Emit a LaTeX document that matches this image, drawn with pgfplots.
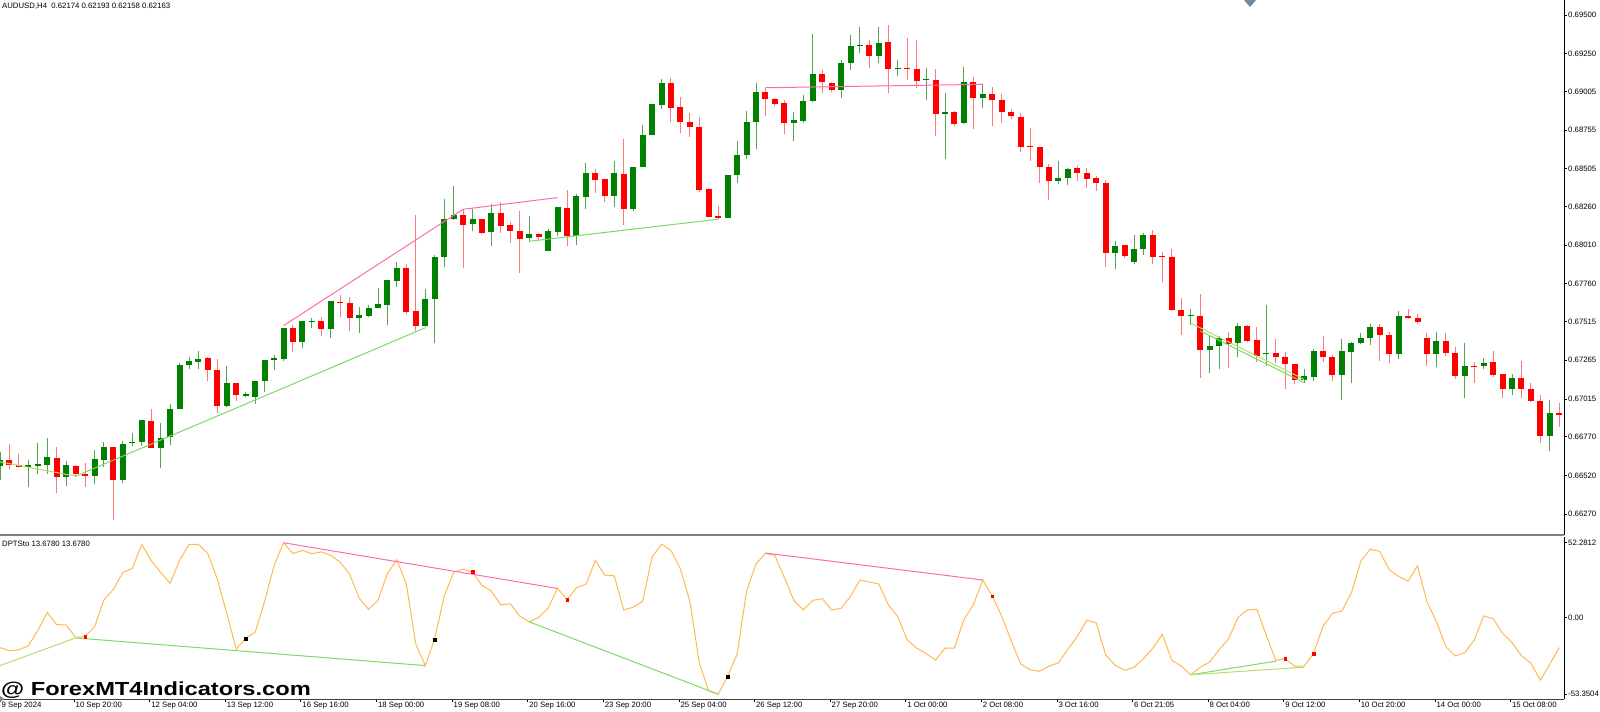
\documentclass[border=0pt]{standalone}
\usepackage{fontspec}
\setmainfont{Liberation Sans}
\usepackage{pgfplots}
\usepackage{pgfplotstable}
\pgfplotsset{compat=1.18}
\definecolor{bull}{RGB}{0,128,0}
\definecolor{bear}{RGB}{255,0,0}
\definecolor{bullwick}{RGB}{80,165,80}
\definecolor{bearwick}{RGB}{255,120,120}
\definecolor{osc}{RGB}{255,185,80}
\definecolor{hpink}{RGB}{255,105,180}
\definecolor{lgreen}{RGB}{120,220,100}
\definecolor{ygreen}{RGB}{185,220,110}
\definecolor{slatemk}{RGB}{119,136,153}
\newcommand\tf{\fontsize{7.8}{9}\selectfont}

\pgfplotstableread{
k O H L C
0 0.66579 0.66672 0.66489 0.66618
3 0.66577 0.66618 0.66445 0.66584
4 0.66581 0.66731 0.66532 0.66592
5 0.66590 0.66763 0.66532 0.66638
7 0.66510 0.66616 0.66450 0.66584
10 0.66515 0.66687 0.66463 0.66625
11 0.66620 0.66737 0.66575 0.66702
13 0.66493 0.66743 0.66471 0.66726
14 0.66731 0.66791 0.66713 0.66739
15 0.66739 0.66880 0.66711 0.66877
17 0.66698 0.66856 0.66566 0.66763
18 0.66767 0.66985 0.66715 0.66951
19 0.66949 0.67249 0.66949 0.67234
20 0.67234 0.67283 0.67206 0.67258
21 0.67255 0.67327 0.67206 0.67275
24 0.66972 0.67229 0.66964 0.67115
26 0.67035 0.67059 0.67029 0.67044
27 0.67029 0.67134 0.66985 0.67134
28 0.67134 0.67268 0.67061 0.67268
29 0.67268 0.67299 0.67201 0.67277
30 0.67273 0.67476 0.67262 0.67476
32 0.67384 0.67516 0.67346 0.67516
33 0.67512 0.67540 0.67477 0.67516
35 0.67466 0.67648 0.67412 0.67648
38 0.67536 0.67611 0.67443 0.67557
39 0.67553 0.67622 0.67546 0.67605
40 0.67605 0.67736 0.67605 0.67626
41 0.67622 0.67784 0.67492 0.67784
42 0.67778 0.67898 0.67739 0.67864
45 0.67486 0.67726 0.67482 0.67661
46 0.67659 0.67946 0.67374 0.67931
47 0.67935 0.68309 0.67866 0.68177
48 0.68177 0.68393 0.68173 0.68205
50 0.68145 0.68242 0.68104 0.68179
52 0.68095 0.68274 0.68006 0.68220
56 0.68057 0.68197 0.68031 0.68081
58 0.67975 0.68113 0.67975 0.68100
59 0.68096 0.68258 0.68070 0.68258
61 0.68070 0.68344 0.68009 0.68329
62 0.68323 0.68543 0.68243 0.68474
65 0.68329 0.68554 0.68258 0.68474
67 0.68243 0.68515 0.68232 0.68515
68 0.68515 0.68791 0.68515 0.68722
69 0.68722 0.68921 0.68722 0.68921
70 0.68917 0.69083 0.68891 0.69061
77 0.68189 0.68463 0.68189 0.68463
78 0.68463 0.68685 0.68413 0.68593
79 0.68593 0.68880 0.68571 0.68809
80 0.68809 0.69057 0.68631 0.68999
84 0.68798 0.68874 0.68684 0.68817
85 0.68813 0.68982 0.68798 0.68945
86 0.68943 0.69377 0.68938 0.69116
89 0.69014 0.69208 0.68960 0.69187
90 0.69187 0.69370 0.69144 0.69299
91 0.69297 0.69420 0.69252 0.69306
93 0.69236 0.69420 0.69187 0.69321
95 0.69148 0.69208 0.69105 0.69157
98 0.69077 0.69159 0.68949 0.69083
100 0.68856 0.68992 0.68567 0.68869
102 0.68798 0.69161 0.68794 0.69064
104 0.68962 0.69051 0.68895 0.68986
112 0.68427 0.68554 0.68405 0.68444
113 0.68442 0.68511 0.68399 0.68502
118 0.67962 0.68038 0.67854 0.68004
120 0.67902 0.68075 0.67885 0.67982
121 0.67982 0.68086 0.67945 0.68077
126 0.67552 0.67600 0.67492 0.67556
128 0.67330 0.67427 0.67185 0.67360
129 0.67360 0.67422 0.67206 0.67410
131 0.67374 0.67504 0.67288 0.67489
134 0.67303 0.67623 0.67230 0.67314
138 0.67137 0.67208 0.67115 0.67163
139 0.67154 0.67336 0.67132 0.67327
142 0.67169 0.67400 0.67007 0.67325
143 0.67320 0.67385 0.67115 0.67379
144 0.67374 0.67444 0.67368 0.67411
145 0.67411 0.67498 0.67364 0.67478
148 0.67303 0.67586 0.67270 0.67551
152 0.67303 0.67450 0.67223 0.67391
155 0.67164 0.67374 0.67020 0.67229
157 0.67227 0.67277 0.67206 0.67249
160 0.67078 0.67175 0.67039 0.67147
164 0.66776 0.67007 0.66678 0.66925
}\bulltab

\pgfplotstableread{
k O H L C
1 0.66618 0.66726 0.66564 0.66586
2 0.66588 0.66657 0.66571 0.66577
6 0.66633 0.66705 0.66409 0.66510
8 0.66579 0.66586 0.66510 0.66527
9 0.66532 0.66597 0.66445 0.66515
12 0.66702 0.66705 0.66229 0.66493
16 0.66875 0.66949 0.66696 0.66696
22 0.67277 0.67283 0.67132 0.67199
23 0.67204 0.67273 0.66921 0.66968
25 0.67115 0.67120 0.67003 0.67042
31 0.67476 0.67493 0.67316 0.67385
34 0.67516 0.67542 0.67423 0.67469
36 0.67641 0.67687 0.67542 0.67633
37 0.67635 0.67676 0.67456 0.67536
43 0.67864 0.67886 0.67562 0.67579
44 0.67583 0.68205 0.67456 0.67486
49 0.68205 0.68242 0.67860 0.68140
51 0.68177 0.68180 0.68080 0.68091
53 0.68220 0.68287 0.68086 0.68136
54 0.68140 0.68162 0.68026 0.68104
55 0.68104 0.68233 0.67832 0.68052
57 0.68081 0.68089 0.68046 0.68061
60 0.68253 0.68366 0.68005 0.68068
63 0.68474 0.68502 0.68349 0.68435
64 0.68437 0.68440 0.68290 0.68329
66 0.68469 0.68694 0.68143 0.68243
71 0.69061 0.69089 0.68809 0.68899
72 0.68906 0.68966 0.68733 0.68809
73 0.68809 0.68867 0.68711 0.68776
74 0.68776 0.68841 0.68355 0.68366
75 0.68372 0.68381 0.68193 0.68193
76 0.68199 0.68262 0.68182 0.68187
81 0.68999 0.69029 0.68848 0.68956
82 0.68956 0.68960 0.68912 0.68925
83 0.68928 0.68949 0.68727 0.68798
87 0.69116 0.69144 0.68992 0.69064
88 0.69057 0.69068 0.69003 0.69016
92 0.69306 0.69338 0.69154 0.69236
94 0.69327 0.69435 0.68992 0.69148
96 0.69159 0.69353 0.69079 0.69148
97 0.69150 0.69338 0.69025 0.69074
99 0.69079 0.69150 0.68718 0.68856
101 0.68869 0.68880 0.68783 0.68796
103 0.69064 0.69096 0.68759 0.68960
105 0.68988 0.69031 0.68783 0.68949
106 0.68950 0.68988 0.68798 0.68874
107 0.68874 0.68891 0.68824 0.68846
108 0.68842 0.68863 0.68610 0.68647
109 0.68649 0.68766 0.68556 0.68643
110 0.68643 0.68646 0.68410 0.68518
111 0.68518 0.68535 0.68302 0.68425
114 0.68507 0.68524 0.68425 0.68474
115 0.68474 0.68507 0.68377 0.68440
116 0.68446 0.68457 0.68360 0.68414
117 0.68414 0.68431 0.67870 0.67962
119 0.68008 0.68010 0.67928 0.67941
122 0.68077 0.68107 0.67891 0.67934
123 0.67939 0.67967 0.67772 0.67932
124 0.67934 0.67984 0.67584 0.67593
125 0.67593 0.67671 0.67431 0.67552
127 0.67554 0.67692 0.67152 0.67330
130 0.67410 0.67448 0.67215 0.67373
132 0.67489 0.67492 0.67381 0.67390
133 0.67396 0.67478 0.67256 0.67294
135 0.67314 0.67400 0.67245 0.67284
136 0.67284 0.67316 0.67078 0.67240
137 0.67240 0.67243 0.67111 0.67137
140 0.67327 0.67424 0.67256 0.67284
141 0.67284 0.67299 0.67132 0.67169
146 0.67478 0.67498 0.67260 0.67428
147 0.67428 0.67450 0.67249 0.67303
149 0.67551 0.67594 0.67530 0.67536
150 0.67536 0.67562 0.67499 0.67514
151 0.67406 0.67439 0.67231 0.67303
153 0.67391 0.67439 0.67294 0.67314
154 0.67314 0.67348 0.67141 0.67164
156 0.67231 0.67251 0.67119 0.67223
158 0.67251 0.67326 0.67158 0.67171
159 0.67175 0.67178 0.67024 0.67078
161 0.67147 0.67262 0.67022 0.67082
162 0.67082 0.67115 0.66996 0.67002
163 0.67002 0.67039 0.66730 0.66776
165 0.66925 0.66990 0.66834 0.66910
}\beartab

\pgfplotstableread{
k v
0 -20.8
1 -23.1
2 -22.4
3 -19.6
4 -8.9
5 3.7
6 -4.8
7 -5.1
8 -13.6
9 -13.1
10 -6.5
11 12.5
12 19.7
13 31.6
14 34.4
15 51.1
16 39.9
17 31.6
18 24.0
19 39.9
20 51.1
21 51.1
22 44.7
23 26.8
24 3.0
25 -22.0
26 -14.1
27 -10.1
28 11.4
29 36.3
30 52.3
31 44.7
32 47.0
33 44.7
34 45.9
35 43.5
36 38.7
37 30.4
38 13.7
39 5.9
40 12.1
41 30.9
42 40.4
43 23.3
44 -18.4
45 -33.4
46 -14.8
47 14.9
48 31.6
49 34.0
50 31.6
51 22.5
52 18.5
53 9.0
54 9.7
55 1.1
56 -2.9
57 0.2
58 6.6
59 20.4
60 12.5
61 20.9
62 23.3
63 39.9
64 29.7
65 29.2
66 5.4
67 7.3
68 11.4
69 42.3
70 51.3
71 47.0
72 34.0
73 11.4
74 -31.5
75 -51.2
76 -53.3
77 -41.0
78 -25.5
79 18.5
80 37.5
81 44.9
82 43.3
83 28.0
84 12.1
85 5.4
86 12.1
87 13.3
88 5.4
89 6.6
90 14.9
91 26.3
92 24.9
93 23.5
94 9.0
95 0.7
96 -15.5
97 -21.2
98 -25.0
99 -29.6
100 -21.2
101 -21.2
102 -1.2
103 9.0
104 26.3
105 14.9
106 1.1
107 -16.0
108 -32.2
109 -36.2
110 -37.4
111 -33.8
112 -31.5
113 -22.0
114 -13.1
115 -1.7
116 -3.6
117 -26.0
118 -33.1
119 -36.7
120 -34.6
121 -28.6
122 -21.2
123 -11.7
124 -29.6
125 -33.8
126 -39.8
127 -34.6
128 -31.0
129 -22.4
130 -14.8
131 0.2
132 5.4
133 5.9
134 -12.4
135 -29.8
136 -28.6
137 -33.8
138 -33.8
139 -25.0
140 -6.0
141 3.0
142 4.7
143 17.3
144 39.4
145 47.8
146 46.3
147 33.5
148 28.8
149 25.6
150 36.1
151 11.2
152 -2.8
153 -20.2
154 -26.7
155 -24.4
156 -15.6
157 1.2
158 -0.7
159 -10.9
160 -17.4
161 -26.5
162 -31.8
163 -43.5
164 -32.5
165 -20.7
}\osctab

\pgfplotsset{
  wick/.style={only marks, mark=*, mark size=0pt, mark options={draw=none, fill=none}, forget plot,
    error bars/.cd, y dir=plus, y explicit, error mark=none,
    error bar style={draw=#1, line width=1bp}},
  body/.style={only marks, mark=*, mark size=0pt, mark options={draw=none, fill=none}, forget plot,
    error bars/.cd, y dir=plus, y explicit, error mark=none,
    error bar style={draw=#1, line width=6bp}},
}

\begin{document}
\begin{tikzpicture}
\path[use as bounding box] (0bp,0bp) rectangle (1600bp,712bp);

\begin{axis}[
  at={(0bp,177bp)}, anchor=south west, scale only axis,
  width=1564bp, height=535bp,
  xmin=0, xmax=165.5, ymin=0.66134, ymax=0.69597,
  axis line style={draw=none},
  clip mode=individual,
  xtick=\empty,
  ytick pos=right, yticklabel pos=right,
  scaled y ticks=false,
  ytick={0.69500,0.69250,0.69005,0.68755,0.68505,0.68260,0.68010,0.67760,0.67515,0.67265,0.67015,0.66770,0.66520,0.66270},
  yticklabels={0.69500,0.69250,0.69005,0.68755,0.68505,0.68260,0.68010,0.67760,0.67515,0.67265,0.67015,0.66770,0.66520,0.66270},
  tick align=outside, major tick length=3bp,
  tick style={black, line width=0.6bp},
  yticklabel style={font=\tf, anchor=west, inner sep=0pt, xshift=1bp},
]
\addplot[wick=bullwick] table[x=k, y=L, y error expr=\thisrow{H}-\thisrow{L}] {\bulltab};
\addplot[wick=bearwick] table[x=k, y=L, y error expr=\thisrow{H}-\thisrow{L}] {\beartab};
\addplot[body=bull] table[x=k, y=O, y error expr={max(\thisrow{C}-\thisrow{O},0.00007)}] {\bulltab};
\addplot[body=bear] table[x=k, y=C, y error expr={max(\thisrow{O}-\thisrow{C},0.00007)}] {\beartab};
% indicator lines on price
\addplot[hpink, line width=1bp, forget plot] coordinates {(30,0.67489) (49,0.68242) (59,0.68318)};
\addplot[hpink, line width=1bp, forget plot] coordinates {(81,0.69029) (104,0.69051)};
\addplot[ygreen, line width=1bp, forget plot] coordinates {(0,0.66607) (8,0.66515)};
\addplot[lgreen, line width=1bp, forget plot] coordinates {(8,0.66515) (45,0.67475)};
\addplot[lgreen, line width=1bp, forget plot] coordinates {(56,0.68035) (76,0.68178)};
\addplot[ygreen, line width=1bp, forget plot] coordinates {(126,0.67505) (138,0.67141)};
\addplot[lgreen, line width=1bp, forget plot] coordinates {(127,0.67455) (138,0.67120)};
\draw[gray, line width=2.5bp] (rel axis cs:0,0) -- (rel axis cs:1,0);
\draw[black, line width=0.8bp] (rel axis cs:1,0) -- (rel axis cs:1,1);
\end{axis}

\begin{axis}[
  at={(0bp,13bp)}, anchor=south west, scale only axis,
  width=1564bp, height=162bp,
  xmin=0, xmax=165.5, ymin=-56.7, ymax=56.3,
  axis line style={draw=none},
  clip mode=individual,
  xtick pos=bottom, xticklabel pos=bottom,
  ytick pos=right, yticklabel pos=right,
  xtick={0,7.83,15.83,23.83,31.83,39.83,47.83,55.83,63.83,71.83,79.83,87.83,95.83,103.83,111.83,119.83,127.83,135.83,143.83,151.83,159.83},
  xticklabels={9 Sep 2024,10 Sep 20:00,12 Sep 04:00,13 Sep 12:00,16 Sep 16:00,18 Sep 00:00,19 Sep 08:00,20 Sep 16:00,23 Sep 20:00,25 Sep 04:00,26 Sep 12:00,27 Sep 20:00,1 Oct 00:00,2 Oct 08:00,3 Oct 16:00,6 Oct 21:05,8 Oct 04:00,9 Oct 12:00,10 Oct 20:00,14 Oct 00:00,15 Oct 08:00},
  ytick={52.2812,0,-53.3504},
  yticklabels={52.2812,0.00,-53.3504},
  tick align=outside, major tick length=3bp,
  tick style={black, line width=0.6bp},
  yticklabel style={font=\tf, anchor=west, inner sep=0pt, xshift=1bp},
  xticklabel style={font=\tf, anchor=north west, inner sep=0pt, xshift=1.5bp},
]
\addplot[osc, line width=1bp, forget plot] table[x=k, y=v] {\osctab};
\addplot[ygreen, line width=1bp, forget plot] coordinates {(0,-33.4) (8,-14.1)};
\addplot[lgreen, line width=1bp, forget plot] coordinates {(8,-14.1) (45,-33.4)};
\addplot[lgreen, line width=1bp, forget plot] coordinates {(56,-2.9) (76,-53.3)};
\addplot[lgreen, line width=1bp, forget plot] coordinates {(126,-39.8) (135,-30.3)};
\addplot[ygreen, line width=1bp, forget plot] coordinates {(126,-39.8) (138,-34.5)};
\addplot[hpink, line width=1bp, forget plot] coordinates {(30,52.3) (59,20.4)};
\addplot[hpink, line width=1bp, forget plot] coordinates {(81,45.1) (104,26.3)};
\addplot[only marks, mark=square*, mark size=1.3bp, color=red, forget plot] coordinates {(9,-13.3) (50,32.0) (60,12.5) (105,14.9) (136,-28.6) (139,-25.2)};
\addplot[only marks, mark=square*, mark size=1.3bp, color=black, forget plot] coordinates {(26,-14.6) (46,-15.3) (77,-41.0)};
\draw[black!75, line width=0.8bp] (rel axis cs:0,0) -- (rel axis cs:1,0);
\draw[black, line width=0.8bp] (rel axis cs:1,0) -- (rel axis cs:1,1);
\end{axis}

\node[anchor=west, inner sep=0pt, font=\tf] at (2bp,706bp) {AUDUSD,H4\ \ 0.62174 0.62193 0.62158 0.62163};
\node[anchor=west, inner sep=0pt, font=\tf] at (2bp,168bp) {DPTSto 13.6780 13.6780};
\node[anchor=base west, inner sep=0pt] at (1bp,17bp) {\scalebox{1.25}[1]{\fontsize{19}{19}\selectfont\bfseries @ ForexMT4Indicators.com}};
\fill[slatemk] (1244bp,712bp) -- (1256bp,712bp) -- (1250bp,705bp) -- cycle;
\fill[slatemk] (0bp,10bp) -- (4bp,13bp) -- (0bp,16bp) -- cycle;
\end{tikzpicture}
\end{document}
